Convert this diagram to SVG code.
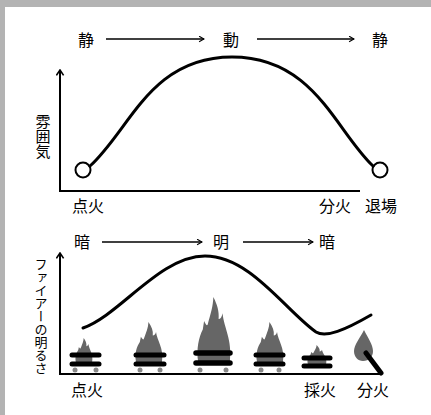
<svg xmlns="http://www.w3.org/2000/svg" xmlns:xlink="http://www.w3.org/1999/xlink" width="431" height="415" viewBox="0 0 431 415">
  <style>
    text { font-family: "Noto Sans CJK JP", "Noto Sans", sans-serif; fill: #000; }
    .lbl { font-size: 16px; text-anchor: middle; }
    .vlbl { writing-mode: vertical-rl; text-orientation: upright; }
    .axis { fill: none; stroke: #000; stroke-width: 2; }
    .flow { fill: none; stroke: #000; stroke-width: 1.6; }
    .curve { fill: none; stroke: #000; stroke-width: 3; stroke-linecap: round; }
    .bar { stroke: #000; stroke-width: 5; stroke-linecap: round; }
    .flame { fill: #666; }
    .wheel { fill: #888; }
  </style>
  <defs>
    <marker id="chev" viewBox="0 0 10 10" refX="9" refY="5" markerWidth="7" markerHeight="7" markerUnits="userSpaceOnUse" orient="auto">
      <polyline points="2,1 9,5 2,9" fill="none" stroke="#000" stroke-width="1.6"/>
    </marker>
    <marker id="axhead" viewBox="0 0 10 10" refX="9" refY="5" markerWidth="9" markerHeight="9" markerUnits="userSpaceOnUse" orient="auto">
      <polyline points="3,1 9,5 3,9" fill="none" stroke="#000" stroke-width="1.8"/>
    </marker>
    <!-- flame outline: base centred at 0,0, tip at 0,-1, width 1 -->
    <path id="flameShape" d="M-0.48,0 C-0.54,-0.2 -0.46,-0.38 -0.34,-0.5 L-0.3,-0.63 C-0.22,-0.55 -0.2,-0.55 -0.18,-0.6 C-0.1,-0.75 -0.03,-0.85 -0.02,-1 C0.1,-0.88 0.16,-0.78 0.14,-0.66 C0.2,-0.66 0.24,-0.7 0.26,-0.75 C0.3,-0.52 0.56,-0.35 0.48,0 Z"/>
  </defs>

  <!-- frame -->
  <rect x="0" y="0" width="431" height="415" fill="#b3b3b3"/>
  <rect x="5" y="7" width="426" height="408" fill="#fff"/>

  <!-- upper chart: atmosphere -->
  <g id="atmosphere-chart">
    <g id="top-flow">
      <text class="lbl" x="86" y="46">静</text>
      <text class="lbl" x="231" y="46">動</text>
      <text class="lbl" x="380" y="46">静</text>
    </g>
    <g id="top-axis-label">
      <text class="vlbl" x="43" y="114" font-size="15">雰囲気</text>
    </g>
    <g id="top-x-labels">
      <text class="lbl" x="88" y="212">点火</text>
      <text class="lbl" x="335" y="212">分火</text>
      <text class="lbl" x="381" y="212">退場</text>
    </g>
    <g id="top-start">
      <circle cx="83" cy="170" r="7.5" fill="#fff" stroke="#000" stroke-width="2"/>
    </g>
    <g id="top-end">
      <circle cx="380" cy="170" r="7.5" fill="#fff" stroke="#000" stroke-width="2"/>
    </g>
  </g>

  <!-- lower chart: fire brightness -->
  <g id="brightness-chart">
    <g id="bottom-flow">
      <text class="lbl" x="82" y="248">暗</text>
      <text class="lbl" x="221" y="248">明</text>
      <text class="lbl" x="327" y="248">暗</text>
    </g>
    <g id="bottom-axis-label">
      <text class="vlbl" x="41" y="258" font-size="13">ファイアーの明るさ</text>
    </g>
    <g id="bottom-x-labels">
      <text class="lbl" x="87" y="396">点火</text>
      <text class="lbl" x="320" y="396">採火</text>
      <text class="lbl" x="373" y="396">分火</text>
    </g>

    <g id="bonfire-1">
      <use xlink:href="#flameShape" class="flame" transform="translate(84,362) scale(17,24)"/>
      <line class="bar" x1="72" y1="355" x2="99" y2="355"/>
      <line class="bar" x1="72" y1="364" x2="99" y2="364"/>
      <circle class="wheel" cx="75" cy="370" r="2.5"/>
      <circle class="wheel" cx="96" cy="370" r="2.5"/>
    </g>
    <g id="bonfire-2">
      <use xlink:href="#flameShape" class="flame" transform="translate(149,362) scale(27,40)"/>
      <line class="bar" x1="136" y1="355" x2="164" y2="355"/>
      <line class="bar" x1="136" y1="364" x2="164" y2="364"/>
      <circle class="wheel" cx="140" cy="370" r="2.5"/>
      <circle class="wheel" cx="160" cy="370" r="2.5"/>
    </g>
    <g id="bonfire-3">
      <use xlink:href="#flameShape" class="flame" transform="translate(214,362) scale(33,65)"/>
      <line class="bar" x1="196" y1="353" x2="230" y2="353" style="stroke-width:5.5"/>
      <line class="bar" x1="196" y1="363" x2="230" y2="363" style="stroke-width:5.5"/>
      <circle class="wheel" cx="200" cy="370" r="2.5"/>
      <circle class="wheel" cx="226" cy="370" r="2.5"/>
    </g>
    <g id="bonfire-4">
      <use xlink:href="#flameShape" class="flame" transform="translate(270,362) scale(27,40)"/>
      <line class="bar" x1="256" y1="355" x2="283" y2="355"/>
      <line class="bar" x1="256" y1="364" x2="283" y2="364"/>
      <circle class="wheel" cx="261" cy="370" r="2.5"/>
      <circle class="wheel" cx="279" cy="370" r="2.5"/>
    </g>
    <g id="bonfire-5">
      <use xlink:href="#flameShape" class="flame" transform="translate(317,364) scale(19,19)"/>
      <line class="bar" x1="304" y1="358" x2="330" y2="358"/>
      <line class="bar" x1="304" y1="366" x2="330" y2="366"/>
    </g>
    <g id="torch">
      <path class="flame" d="M364,330 C360,338 354,345 354,351 C354,357 358,361 363,361 C369,361 373,357 373,351 C373,345 368,338 364,330 Z"/>
      <line x1="366" y1="353" x2="381" y2="373" stroke="#000" stroke-width="5" stroke-linecap="round"/>
    </g>
  </g>

  <!-- axes, flow arrows and curves -->
  <g id="connectors">
    <path class="axis" d="M60,191 V70" marker-end="url(#axhead)"/>
    <path class="axis" d="M59,191 H360"/>
    <path class="flow" d="M106,39 H204" marker-end="url(#chev)"/>
    <path class="flow" d="M257,39 H354" marker-end="url(#chev)"/>
    <path class="curve" d="M90,166 C130,130 150,57 232,57 C314,57 335,130 373,166"/>

    <path class="axis" d="M60,374 V253" marker-end="url(#axhead)"/>
    <path class="axis" d="M59,374 H382"/>
    <path class="flow" d="M102,242 H202" marker-end="url(#chev)"/>
    <path class="flow" d="M243,242 H313" marker-end="url(#chev)"/>
    <path class="curve" d="M83,328 C120,315 160,256 205,256 C250,256 285,310 316,332 C326,338 345,330 371,315"/>
  </g>
</svg>
